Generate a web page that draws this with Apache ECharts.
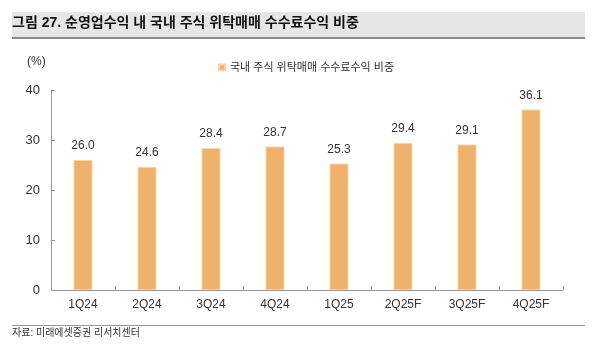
<!DOCTYPE html>
<html><head><meta charset="utf-8">
<script src="https://cdn.jsdelivr.net/npm/echarts@6/dist/echarts.min.js"></script>
<style>html,body{margin:0;padding:0;background:#fff}#c{width:599px;height:356px}</style>
</head><body><div id="c"></div>
<script>
const categories = ['1Q24','2Q24','3Q24','4Q24','1Q25','2Q25F','3Q25F','4Q25F'];
const shareValues = [26.0, 24.6, 28.4, 28.7, 25.3, 29.4, 29.1, 36.1];
const seriesName = '국내 주식 위탁매매 수수료수익 비중';
const titleText = '그림 27. 순영업수익 내 국내 주식 위탁매매 수수료수익 비중';
const sourceText = '자료: 미래에셋증권 리서치센터';
const font = '"Liberation Sans", "Noto Sans CJK KR", sans-serif';
const chart = echarts.init(document.getElementById('c'), null, {renderer:'canvas'});
chart.setOption({
  animation:false,
  graphic:[
    {type:'rect', shape:{x:12,y:12,width:573,height:25}, style:{fill:'#e6e6e6'}},
    {type:'rect', shape:{x:12,y:37,width:573,height:2}, style:{fill:'#8a8a8a'}},
    {type:'text', left:12, top:16, style:{text:titleText, font:'bold 14px '+font, fill:'#111'}},
    {type:'text', left:27, top:56, style:{text:'(%)', font:'12px '+font, fill:'#333'}},
    {type:'rect', shape:{x:12,y:325,width:573,height:1}, style:{fill:'#999'}},
    {type:'text', left:12, top:328, style:{text:sourceText, font:'10px '+font, fill:'#333'}}
  ],
  legend:{data:[seriesName], left:213, top:57, itemWidth:6, itemHeight:6, itemGap:3, icon:'rect',
    textStyle:{fontFamily:font, fontSize:11, color:'#333'}},
  grid:{left:51, right:36, top:90, bottom:66, containLabel:false},
  xAxis:{type:'category', data:categories,
    axisLine:{lineStyle:{color:'#999'}},
    axisTick:{show:true, inside:true, length:4, lineStyle:{color:'#999'}},
    axisLabel:{fontFamily:font, fontSize:12, color:'#333', margin:9}},
  yAxis:{type:'value', min:0, max:40, interval:10,
    axisLine:{show:true, lineStyle:{color:'#999'}},
    axisTick:{show:true, inside:true, length:4, lineStyle:{color:'#999'}},
    splitLine:{show:false},
    axisLabel:{fontFamily:font, fontSize:13, color:'#333', margin:11}},
  series:[{name:seriesName, type:'bar', data:shareValues, barWidth:19,
    itemStyle:{color:'#efb06a', borderColor:'#f8d3aa', borderWidth:1},
    label:{show:true, position:'top', distance:8, formatter:p=>p.value.toFixed(1),
      fontFamily:font, fontSize:12, color:'#333'}}]
});
</script></body></html>
